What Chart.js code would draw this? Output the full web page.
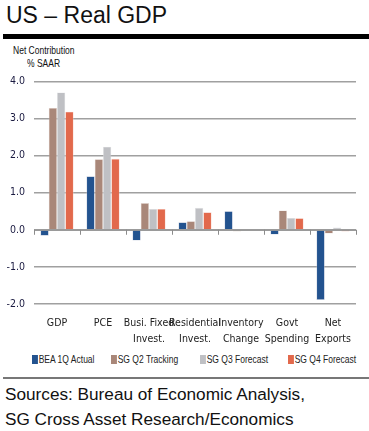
<!DOCTYPE html>
<html><head><meta charset="utf-8">
<script src="https://cdn.jsdelivr.net/npm/chart.js@4"></script>
<style>
html,body{margin:0;padding:0;background:#fff;}
body{width:369px;height:431px;position:relative;overflow:hidden;font-family:'Liberation Sans',Arial,sans-serif;}
#title{position:absolute;left:6px;top:2px;font-size:23px;color:#111;}
#bar1{position:absolute;left:3px;top:34px;width:366px;height:5px;background:#000;}
.nar{position:absolute;white-space:nowrap;transform-origin:0 0;transform:scaleX(0.74);}
#ylab1{left:13px;top:44px;font-size:11.5px;color:#111;}
#ylab2{left:27px;top:57px;font-size:11.5px;color:#111;}
#wrap{position:absolute;left:0;top:66px;width:369px;height:284px;}
#legend{position:absolute;top:353px;left:0;width:369px;height:14px;font-size:11.5px;color:#222;}
.li span{display:inline-block;width:8px;height:9px;margin-right:1px;vertical-align:-1px;}
#bar2{position:absolute;left:3px;top:377px;width:366px;height:2px;background:#777;}
#src{position:absolute;left:5px;top:382px;font-size:17.2px;line-height:25px;color:#111;}
</style></head>
<body>
<div id="title">US – Real GDP</div>
<div id="bar1"></div>
<div id="ylab1" class="nar">Net Contribution</div>
<div id="ylab2" class="nar">% SAAR</div>
<div id="wrap"><canvas id="c" width="369" height="284"></canvas></div>
<div id="legend"></div>
<div id="bar2"></div>
<div id="src">Sources: Bureau of Economic Analysis,<br>SG Cross Asset Research/Economics</div>
<script>
const categories = ['GDP', 'PCE', ['Busi. Fixed','Invest.'], ['Residential','Invest.'], ['Inventory','Change'], ['Govt','Spending'], ['Net','Exports']];
const seriesNames = ['BEA 1Q Actual', 'SG Q2 Tracking', 'SG Q3 Forecast', 'SG Q4 Forecast'];
const bea1Q = [-0.16, 1.44, -0.29, 0.20, 0.50, -0.13, -1.89];
const sgQ2 = [3.28, 1.90, 0.72, 0.23, -0.05, 0.52, -0.10];
const sgQ3 = [3.70, 2.24, 0.56, 0.59, 0.00, 0.32, 0.06];
const sgQ4 = [3.18, 1.91, 0.56, 0.47, -0.02, 0.31, -0.05];
const yTicks = [-2, -1, 0, 1, 2, 3, 4];
const colors = ['#23538F', '#A98779', '#BFC0C4', '#E2694C'];
const edges = ['#B9C3D6', '#E4D6D0', '#E2E3E6', '#F4C9BE'];

const NARROW = "'DejaVu Sans Condensed','Liberation Sans Narrow',sans-serif";
const series = [bea1Q, sgQ2, sgQ3, sgQ4];

const zeroTicks = {
  id: 'zeroTicks',
  afterDatasetsDraw(chart) {
    const {ctx, scales: {x, y}} = chart;
    const y0 = y.getPixelForValue(0);
    const n = categories.length;
    ctx.save();
    ctx.strokeStyle = '#8c8c8c';
    ctx.lineWidth = 1;
    ctx.beginPath();
    ctx.moveTo(x.left, y0 + 0.5); ctx.lineTo(x.right, y0 + 0.5);
    for (let i = 0; i <= n; i++) {
      const px = Math.round(x.left + (x.right - x.left) * i / n) + 0.5;
      ctx.moveTo(px, y0); ctx.lineTo(px, y0 + 5);
    }
    ctx.stroke();
    ctx.restore();
  }
};

new Chart(document.getElementById('c'), {
  type: 'bar',
  data: {
    labels: categories,
    datasets: series.map((d, i) => ({
      label: seriesNames[i], data: d, backgroundColor: colors[i],
      borderColor: edges[i], borderWidth: 0.6,
      categoryPercentage: 0.72, barPercentage: 1.0
    }))
  },
  options: {
    responsive: false, animation: false,
    devicePixelRatio: 1,
    layout: {padding: {top: 14, right: 13, left: 0, bottom: 0}},
    plugins: {legend: {display: false}, tooltip: {enabled: false}},
    scales: {
      y: {
        min: -2, max: 4,
        afterBuildTicks(s) { s.ticks = yTicks.map(v => ({value: v})); },
        afterFit(s) { s.width = 34; },
        border: {display: false},
        grid: {color: '#A0A0A0', lineWidth: 1.5, drawTicks: false},
        ticks: {padding: 9, color: '#1a1a40', font: {family: NARROW, size: 10.5},
          callback: v => v.toFixed(1)}
      },
      x: {
        afterFit(s) { s.height = 46; },
        border: {display: false},
        grid: {display: false},
        ticks: {color: '#222', font: {family: NARROW, size: 10.5, lineHeight: 1.45},
          maxRotation: 0, autoSkip: false, padding: 4}
      }
    }
  },
  plugins: [zeroTicks]
});

const lg = document.getElementById('legend');
const lx = [32, 111, 200, 288];
seriesNames.forEach((nm, i) => {
  const d = document.createElement('div');
  d.className = 'li nar'; d.style.left = lx[i] + 'px';
  d.innerHTML = '<span style="background:' + colors[i] + '"></span>' + nm;
  lg.appendChild(d);
});
</script>
</body></html>
